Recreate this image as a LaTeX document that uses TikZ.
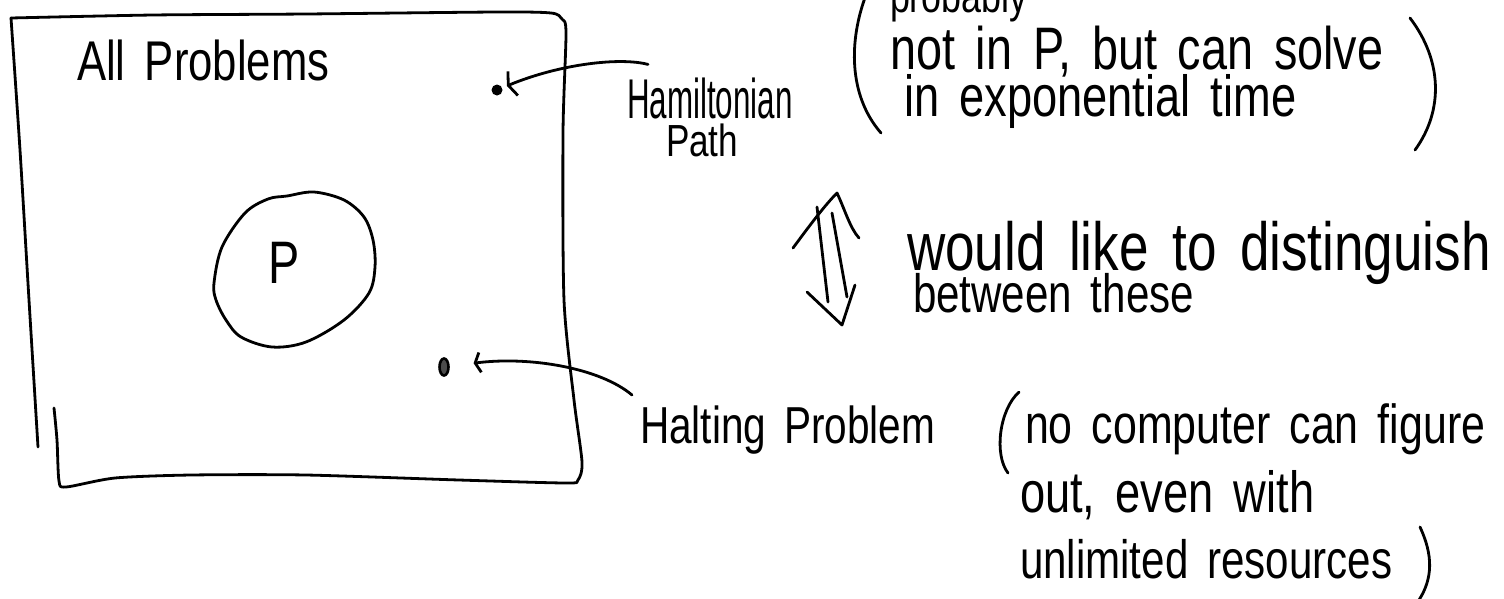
\documentclass[tikz,border=0pt]{standalone}
\usepackage{fontspec}
\usetikzlibrary{arrows.meta,shapes.geometric}
\newfontfamily\handfont[FakeStretch=0.78,WordSpace=1.6]{Liberation Sans}
\newfontfamily\handnarrow[FakeStretch=0.56]{Liberation Sans}
\newcommand\fsz[1]{\fontsize{#1}{#1}\selectfont}
\tikzset{
  pen/.style={line width=2.8pt, line cap=round, line join=round},
  note/.style={anchor=base west, inner sep=0pt, outer sep=0pt},
  barb/.style={-{Straight Barb[length=5pt,width=#1]}},
}
\begin{document}
\begin{tikzpicture}[x=1pt,y=-1pt]
\useasboundingbox (0,0) rectangle (1504,598);
\clip (0,0) rectangle (1504,598);
\fill[white] (0,0) rectangle (1504,598);

% the set of all problems
\draw[pen] plot[smooth, tension=0.45] coordinates {(11,18) (153,15) (306,14) (497,12) (551,13) (562,19) (566,33) (563,133) (564,300) (574,400) (582,462) (578,480) (566,483) (459,480) (306,475) (191,475) (115,478) (66,487) (59,481) (57,440) (54,408)};
\draw[pen] plot[smooth, tension=0.45] coordinates {(11,18) (20,150) (29,300) (38,447)};
\node[note, font=\handfont\fsz{56}] (allp) at (77,80) {All Problems};

% the class P
\draw[pen] plot[smooth cycle, tension=0.55] coordinates {(287,196) (314,192) (344,200) (364,217) (373,240) (375,267) (369,293) (344,320) (306,342) (272,347) (241,337) (226,320) (216,300) (214,283) (222,247) (245,213) (268,199)};
\node[note, font=\handfont\fsz{60}] (p) at (268,283) {P};

% two sample problems
\node[circle, fill=black, inner sep=0pt, minimum size=11pt] (hdot) at (497,90) {};
\node[ellipse, draw=black, line width=2.6pt, fill=black!70, inner sep=0pt, minimum width=9pt, minimum height=17pt] (tdot) at (444,367) {};

% Hamiltonian path
\node[note, font=\handnarrow\fsz{56}] (ham) at (627,118) {Hamiltonian};
\node[note, font=\handfont\fsz{45}] (path) at (666,156) {Path};
\draw[pen, barb=26pt, shorten >=5pt] ([shift={(21,-13)}]ham.north west) .. controls (620,57) and (560,64) .. (hdot);

\draw[pen] (866,-5) .. controls (849,40) and (848,95) .. (881,133);
\node[note, font=\handfont\fsz{46}] (prob) at (890,12) {probably};
\node[note, font=\handfont\fsz{60}] (notp) at (890,69) {not in P, but can solve};
\node[note, font=\handfont\fsz{58}] (expo) at (904,116) {in exponential time};
\draw[pen] (1410,18) .. controls (1442,60) and (1444,110) .. (1415,150);

% the distinction between them
\draw[pen] (793,248) .. controls (810,225) and (825,205) .. (837,193) .. controls (845,210) and (850,228) .. (859,238);
\draw[pen] (817,207) -- (828,302);
\draw[pen] (832,213) -- (847,297);
\draw[pen] (807,292) -- (842,325) -- (855,285);
\node[note, font=\handfont\fsz{68}] (would) at (907,270) {would like to distinguish};
\node[note, font=\handfont\fsz{54}] (betw) at (913,312) {between these};

% Halting problem
\node[note, font=\handfont\fsz{52}] (halt) at (640,443) {Halting Problem};
\draw[pen, barb=20pt, shorten >=24pt] ([shift={(-8,-48)}]halt.base west) .. controls (600,368) and (530,356) .. (tdot);

\draw[pen] (1019,392) .. controls (999,410) and (994,455) .. (1008,473);
\node[note, font=\handfont\fsz{55}] (nocomp) at (1025,443) {no computer can figure};
\node[note, font=\handfont\fsz{58}] (outl) at (1020,512) {out, even with};
\node[note, font=\handfont\fsz{54}] (unl) at (1020,578) {unlimited resources};
\draw[pen] (1420,527) .. controls (1433,555) and (1433,578) .. (1419,600);
\end{tikzpicture}
\end{document}
